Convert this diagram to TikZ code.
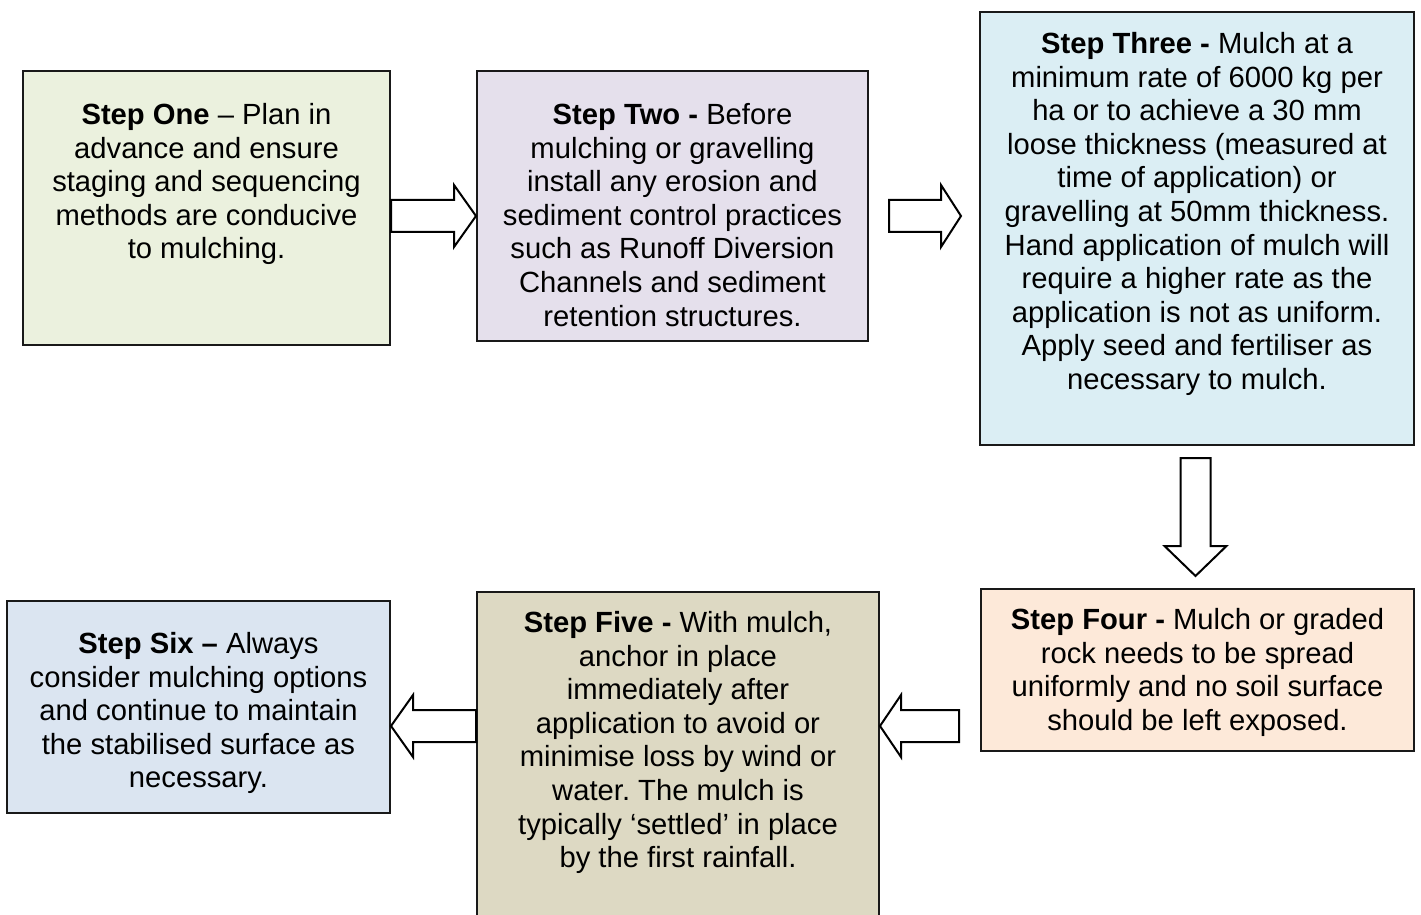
\documentclass[tikz,border=0pt]{standalone}
\usepackage{fontspec}
\setmainfont{Liberation Sans}
\usetikzlibrary{calc,fit}
\frenchspacing

\definecolor{fillone}{HTML}{EBF1DE}
\definecolor{filltwo}{HTML}{E5E0EC}
\definecolor{fillthree}{HTML}{DBEEF4}
\definecolor{fillfour}{HTML}{FDE9D9}
\definecolor{fillfive}{HTML}{DDD9C3}
\definecolor{fillsix}{HTML}{DBE5F1}

\tikzset{
  stepbox/.style={draw=black!90, line width=1pt, inner sep=0pt, rectangle},
  steptext/.style={anchor=north, align=center, inner sep=0pt,
    font=\fontsize{14.6pt}{16.8pt}\selectfont},
  blockarrow/.style={draw=black, fill=white, line width=1pt, line join=miter},
}

% horizontal block arrow: #1 tail, #2 tip, #3 head length (signed)
\newcommand{\hblock}[3]{%
  \draw[blockarrow] let \p1=(#1), \p2=(#2) in
    (\x1,{\y1+8pt}) -- ({\x2-(#3)},{\y1+8pt}) -- ({\x2-(#3)},{\y1+15.5pt})
    -- (\x2,\y1) -- ({\x2-(#3)},{\y1-15.5pt}) -- ({\x2-(#3)},{\y1-8pt})
    -- (\x1,{\y1-8pt}) -- cycle;}
% downward block arrow: #1 tail, #2 tip
\newcommand{\vblock}[2]{%
  \draw[blockarrow] let \p1=(#1), \p2=(#2) in
    ({\x1-7.5pt},\y1) -- ({\x1-7.5pt},{\y2+15pt}) -- ({\x1-15.5pt},{\y2+15pt})
    -- (\x1,\y2) -- ({\x1+15.5pt},{\y2+15pt}) -- ({\x1+7.5pt},{\y2+15pt})
    -- ({\x1+7.5pt},\y1) -- cycle;}

\begin{document}
\begin{tikzpicture}[x=0.5pt, y=-0.5pt]
\useasboundingbox (0,0) rectangle (1421,915);
\clip (0,0) rectangle (1421,915);

% the six step boxes
\node[stepbox, fill=fillone,   fit={(23,71) (390,345)}]   (s1) {};
\node[stepbox, fill=filltwo,   fit={(477,71) (868,341)}]  (s2) {};
\node[stepbox, fill=fillthree, fit={(980,12) (1414,445)}] (s3) {};
\node[stepbox, fill=fillfour,  fit={(981,589) (1414,751)}] (s4) {};
\node[stepbox, fill=fillfive,  fit={(477,592) (879,925)}] (s5) {};
\node[stepbox, fill=fillsix,   fit={(7,601) (390,813)}]   (s6) {};

% step texts
\node[steptext] (t1) at ($(s1.north)+(0,-16.5pt)$)
  {\textbf{Step One} – Plan in\\advance and ensure\\staging and sequencing\\methods are conducive\\to mulching.};
\node[steptext] (t2) at ($(s2.north)+(0,-16.5pt)$)
  {\textbf{Step Two -} Before\\mulching or gravelling\\install any erosion and\\sediment control practices\\such as Runoff Diversion\\Channels and sediment\\retention structures.};
\node[steptext] (t3) at ($(s3.north)+(0,-10.5pt)$)
  {\textbf{Step Three -} Mulch at a\\minimum rate of 6000 kg per\\ha or to achieve a 30 mm\\loose thickness (measured at\\time of application) or\\gravelling at 50mm thickness.\\Hand application of mulch will\\require a higher rate as the\\application is not as uniform.\\Apply seed and fertiliser as\\necessary to mulch.};
\node[steptext] (t4) at ($(s4.north)+(0,-10pt)$)
  {\textbf{Step Four -} Mulch or graded\\rock needs to be spread\\uniformly and no soil surface\\should be left exposed.};
\node[steptext] (t5) at ($(s5.north)+(0,-10pt)$)
  {\textbf{Step Five -} With mulch,\\anchor in place\\immediately after\\application to avoid or\\minimise loss by wind or\\water. The mulch is\\typically ‘settled’ in place\\by the first rainfall.};
\node[steptext] (t6) at ($(s6.north)+(0,-16pt)$)
  {\textbf{Step Six –} Always\\consider mulching options\\and continue to maintain\\the stabilised surface as\\necessary.};

% arrow end points
\coordinate (a1s) at (s1.east |- 0,216);
\coordinate (a1e) at (s2.west |- 0,216);
\coordinate (a2s) at ($(s2.east |- 0,216)+(10pt,0)$);
\coordinate (a2e) at ($(s3.west |- 0,216)+(-9pt,0)$);
\coordinate (a3s) at ($(s3.south)+(-0.75pt,-6pt)$);
\coordinate (a3e) at ($(s4.north)+(-0.75pt,6pt)$);
\coordinate (a4s) at ($(s4.west |- 0,726)+(-10.5pt,0)$);
\coordinate (a4e) at (s5.east |- 0,726);
\coordinate (a5s) at (s5.west |- 0,726);
\coordinate (a5e) at (s6.east |- 0,726);

% block arrows between the steps
\hblock{a1s}{a1e}{11pt}
\hblock{a2s}{a2e}{10pt}
\vblock{a3s}{a3e}
\hblock{a4s}{a4e}{-10.5pt}
\hblock{a5s}{a5e}{-11pt}
\end{tikzpicture}
\end{document}
